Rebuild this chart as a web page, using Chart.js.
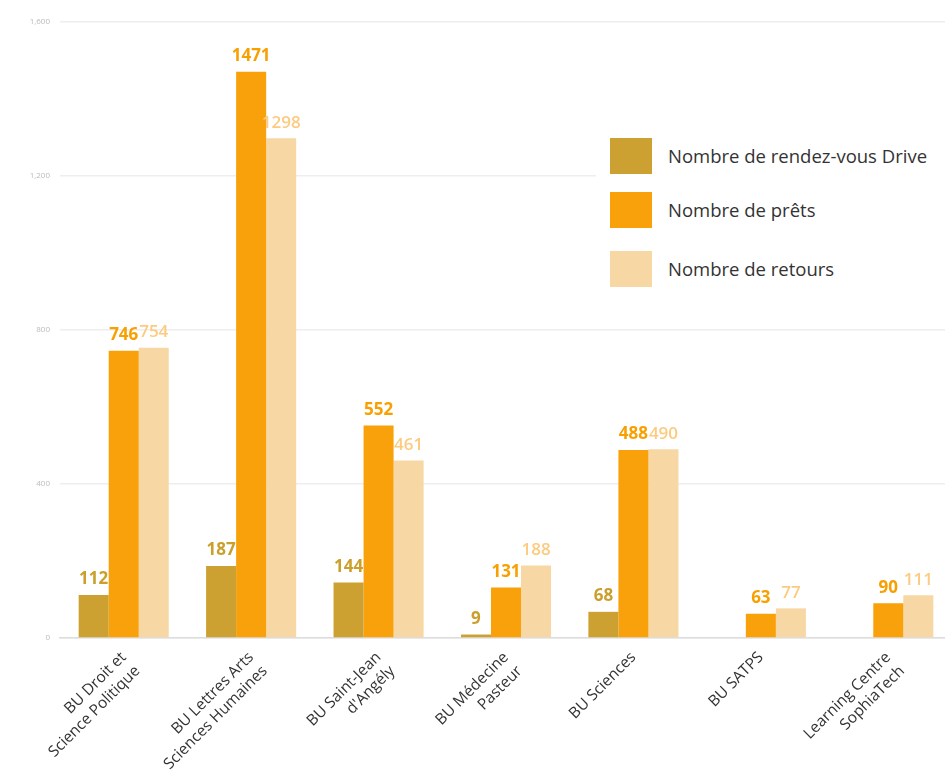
<!DOCTYPE html>
<html lang="fr">
<head>
    <meta charset="UTF-8">
    <title>Rendez-vous Drive, prêts et retours</title>
    <script src="https://cdn.jsdelivr.net/npm/chart.js"></script>
    <style>
        html, body { margin: 0; padding: 0; background: #fff; overflow: hidden; }
        .wrap { position: relative; width: 952px; height: 773px; }
        .legend {
            position: absolute; left: 596px; top: 118px; width: 360px; height: 184px;
            background: #fff; font-family: "Open Sans", sans-serif; font-size: 18.5px; color: #333;
        }
        .legend div { position: absolute; left: 14px; height: 36px; line-height: 36px; }
        .legend span { display: inline-block; width: 42px; height: 36px; vertical-align: top; margin-right: 16px; }
    </style>
</head>
<body>
    <div class="wrap">
        <canvas id="chart"></canvas>
        <div class="legend" id="legend"></div>
    </div>

    <script>
        // libellés des BU (sur deux lignes)
        const categories = [
            ['BU Droit et', 'Science Politique'],
            ['BU Lettres Arts', 'Sciences Humaines'],
            ['BU Saint-Jean', "d'Angély"],
            ['BU Médecine', 'Pasteur'],
            ['BU Sciences'],
            ['BU SATPS'],
            ['Learning Centre', 'SophiaTech']
        ];

        const seriesNames = ['Nombre de rendez-vous Drive', 'Nombre de prêts', 'Nombre de retours'];
        const rdvDrive = [112, 187, 144, 9, 68, null, null];
        const prets = [746, 1471, 552, 131, 488, 63, 90];
        const retours = [754, 1298, 461, 188, 490, 77, 111];
        const yTicks = [0, 400, 800, 1200, 1600];

        const barColors = ['#CDA131', '#F9A10B', '#F7D8A4'];
        const labelColors = ['#CB9F2C', '#F8A000', '#FCCB80'];

        // étiquettes de valeurs au-dessus des barres
        const valueLabels = {
            id: 'valueLabels',
            afterDatasetsDraw(chart) {
                const ctx = chart.ctx;
                ctx.save();
                ctx.textAlign = 'center';
                ctx.textBaseline = 'bottom';
                chart.data.datasets.forEach((ds, i) => {
                    const meta = chart.getDatasetMeta(i);
                    ctx.font = (i === 2 ? '600' : 'bold') + ' 17px "Open Sans", sans-serif';
                    ctx.fillStyle = labelColors[i];
                    meta.data.forEach((bar, j) => {
                        if (ds.data[j] == null) return;
                        ctx.fillText(ds.data[j], bar.x, bar.y - 7);
                    });
                });
                ctx.restore();
            }
        };

        const ctx = document.getElementById('chart').getContext('2d');
        const chart = new Chart(ctx, {
            type: 'bar',
            data: {
                labels: categories,
                datasets: [
                    { label: seriesNames[0], data: rdvDrive, backgroundColor: barColors[0] },
                    { label: seriesNames[1], data: prets, backgroundColor: barColors[1] },
                    { label: seriesNames[2], data: retours, backgroundColor: barColors[2] }
                ]
            },
            options: {
                responsive: true,
                maintainAspectRatio: false,
                animation: false,
                layout: { padding: { top: 22, right: 0, left: 0, bottom: 0 } },
                datasets: { bar: { categoryPercentage: 0.707, barPercentage: 1.0 } },
                plugins: {
                    legend: { display: false },
                    tooltip: { enabled: false }
                },
                scales: {
                    x: {
                        grid: { display: false },
                        border: { color: '#dddddd', width: 1.5 },
                        afterFit: (scale) => { scale.height = 135; },
                        ticks: {
                            maxRotation: 45,
                            minRotation: 45,
                            padding: 2,
                            color: '#333',
                            font: { family: '"Open Sans", sans-serif', size: 15.5, lineHeight: 1.25 }
                        }
                    },
                    y: {
                        min: 0,
                        max: 1600,
                        afterFit: (scale) => { scale.width = 60; },
                        afterBuildTicks: (scale) => { scale.ticks = yTicks.map(v => ({ value: v })); },
                        border: { display: false },
                        grid: { color: '#eeeeee', lineWidth: 1.5, drawTicks: false },
                        ticks: {
                            padding: 10,
                            color: '#bbbbbb',
                            font: { family: '"Open Sans", sans-serif', size: 8 }
                        }
                    }
                }
            },
            plugins: [valueLabels]
        });

        // légende
        const legend = document.getElementById('legend');
        const legendTops = [20, 74, 133];
        seriesNames.forEach((name, i) => {
            const row = document.createElement('div');
            row.style.top = legendTops[i] + 'px';
            row.innerHTML = '<span style="background:' + barColors[i] + '"></span>' + name;
            legend.appendChild(row);
        });
    </script>
</body>
</html>
